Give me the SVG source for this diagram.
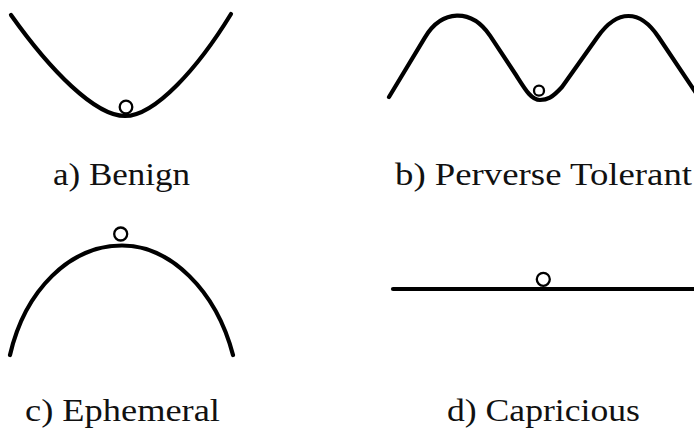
<svg xmlns="http://www.w3.org/2000/svg" width="694" height="429" viewBox="0 0 694 429">
<style>
.curve{fill:none;stroke:#000;stroke-width:4.2;stroke-linecap:round;stroke-linejoin:round}
.ball{fill:#fff;stroke:#000;stroke-width:2.3}
.lbl{font-family:'Liberation Serif','Times New Roman',serif;font-size:31px;fill:#111}
</style>
<rect width="694" height="429" fill="#fff"/>
<g id="benign">
<path class="curve" d="M11,15 C50,70 95,116 125,116 C155,116 198,68 231,14"/>
<circle class="ball" cx="126" cy="107" r="6.3"/>
<text class="lbl" x="53" y="185" textLength="137" lengthAdjust="spacingAndGlyphs">a) Benign</text>
</g>
<g id="perverse-tolerant">
<path class="curve" d="M389,97 L425,37.4 C442,9.2 471.3,8.3 490,35.6 L516,75 C525,89 531,100 540,100 C547,100 552,98 562,87 L597.5,37 C617.3,9 639.9,9 658.5,37 L700,99"/>
<circle class="ball" cx="539" cy="90.7" r="5"/>
<text class="lbl" x="395" y="185" textLength="297" lengthAdjust="spacingAndGlyphs">b) Perverse Tolerant</text>
</g>
<g id="ephemeral">
<path class="curve" d="M10,355 C25,290 70,245.5 122,245.5 C170,245.5 216,290 233,355"/>
<circle class="ball" cx="120.7" cy="234" r="6.5"/>
<text class="lbl" x="25" y="421" textLength="195" lengthAdjust="spacingAndGlyphs">c) Ephemeral</text>
</g>
<g id="capricious">
<path class="curve" d="M393,289 L700,289"/>
<circle class="ball" cx="543.3" cy="279.3" r="6.5"/>
<text class="lbl" x="447" y="421" textLength="193" lengthAdjust="spacingAndGlyphs">d) Capricious</text>
</g>
</svg>
